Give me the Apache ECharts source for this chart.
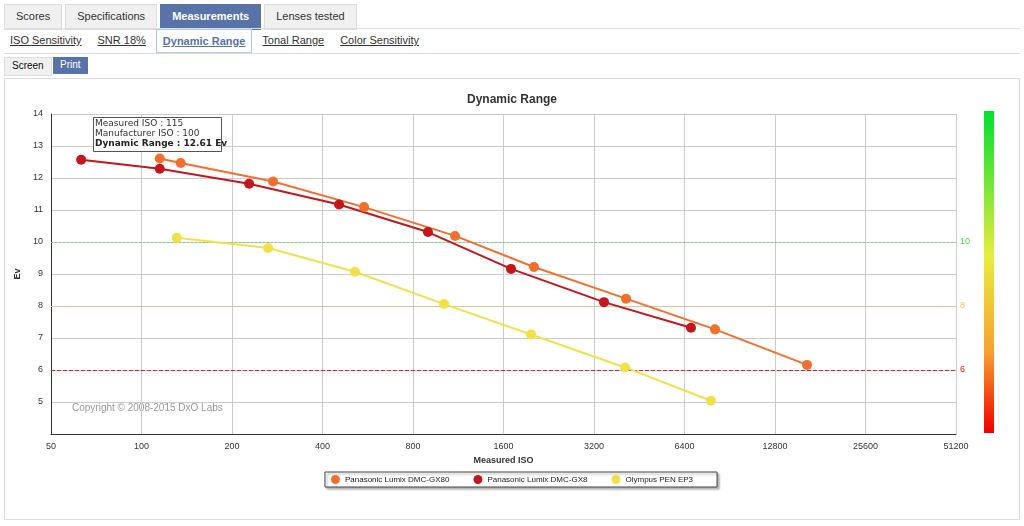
<!DOCTYPE html>
<html>
<head>
<meta charset="utf-8">
<title>Dynamic Range</title>
<script src="https://cdn.jsdelivr.net/npm/echarts@6/dist/echarts.min.js"></script>
<style>
body{margin:0;font-family:"Liberation Sans",Arial,sans-serif;background:#fff;width:1024px;height:526px;position:relative;overflow:hidden}
.tabs{position:absolute;left:4px;top:4px;display:flex}
.tabs div{font-size:11px;color:#333;background:#f0f0f0;border:1px solid #ddd;padding:0 11px;height:24px;line-height:22px;margin-right:3px}
.tabs .on{background:#5873a8;color:#fff;font-weight:bold;border-color:#5873a8}
.sub{position:absolute;left:4px;top:28px;right:4px;height:24px;border-top:1px solid #ddd;border-bottom:1px solid #ddd;display:flex}
.sub div{font-size:11px;color:#333;text-decoration:underline;padding:0 6px;margin-right:4px;line-height:22px}
.sub .on{color:#5873a8;font-weight:bold;border:1px solid #a9cde8}
.btn{position:absolute;top:57px;font-size:10px;height:17px;line-height:16px;padding:0 7px}
#main{position:absolute;left:4px;top:78px;width:1016px;height:442px;border:1px solid #ddd;box-sizing:border-box}
</style>
</head>
<body>
<div class="tabs"><div>Scores</div><div>Specifications</div><div class="on">Measurements</div><div>Lenses tested</div></div>
<div class="sub"><div>ISO Sensitivity</div><div>SNR 18%</div><div class="on">Dynamic Range</div><div>Tonal Range</div><div>Color Sensitivity</div></div>
<div class="btn" style="left:4px;background:#f0f0f0;border:1px solid #ddd;color:#111">Screen</div>
<div class="btn" style="left:53px;background:#5873a8;color:#fff">Print</div>
<div id="main"></div>
<script>
var seriesNames = ['Panasonic Lumix DMC-GX80', 'Panasonic Lumix DMC-GX8', 'Olympus PEN EP3'];
var colors = ['#f26f2e', '#c4161c', '#f2e04a'];
var isoGX80 = [115, 135, 274, 550, 1104, 2021, 4090, 8085, 16360];
var evGX80 = [12.61, 12.47, 11.89, 11.09, 10.19, 9.22, 8.23, 7.27, 6.16];
var isoGX8 = [63, 115, 228, 454, 897, 1695, 3455, 6725];
var evGX8 = [12.57, 12.29, 11.82, 11.17, 10.31, 9.16, 8.12, 7.32];
var isoEP3 = [131, 264, 513, 1015, 1976, 4060, 7840];
var evEP3 = [10.13, 9.81, 9.07, 8.06, 7.11, 6.08, 5.04];
var isoTicks = [50, 100, 200, 400, 800, 1600, 3200, 6400, 12800, 25600, 51200];

var myChart = echarts.init(document.getElementById('main'));
function pts(iso, ev) {
	return iso.map(function (v, i) { return [Math.log2(v / 50), ev[i]]; });
}
var all = [[isoGX80, evGX80], [isoGX8, evGX8], [isoEP3, evEP3]];
var series = all.map(function (d, i) {
	return {
		name: seriesNames[i], type: 'line', data: pts(d[0], d[1]),
		symbol: 'circle', symbolSize: 10,
		itemStyle: { color: colors[i] }, lineStyle: { width: 2, color: colors[i] }
	};
});
series[0].markLine = {
	silent: true, symbol: 'none', z: 1,
	label: { position: 'end', fontSize: 9, distance: 4 },
	data: [
		{ yAxis: 10, lineStyle: { color: '#6fd86f', type: [2, 2], width: 1 }, label: { color: '#4cd44c', formatter: '10' } },
		{ yAxis: 8, lineStyle: { color: '#d9c9a0', type: 'solid', width: 1 }, label: { color: '#f2c46a', formatter: '8' } },
		{ yAxis: 6, lineStyle: { color: '#e02020', type: 'dashed', width: 1 }, label: { color: '#e02020', formatter: '6' } }
	]
};
var option = {
	animation: false,
	textStyle: { fontFamily: 'Liberation Sans, Arial, sans-serif' },
	title: { text: 'Dynamic Range', left: 'center', top: 10, textStyle: { fontSize: 12, fontWeight: 'bold', color: '#333' } },
	grid: { left: 46, top: 35, width: 905, height: 320 },
	xAxis: {
		type: 'value', min: 0, max: 10, interval: 1,
		name: 'Measured ISO', nameLocation: 'middle', nameGap: 22,
		nameTextStyle: { fontSize: 9, fontWeight: 'bold', color: '#333' },
		axisLine: { lineStyle: { color: '#333' } }, axisTick: { show: false },
		axisLabel: { fontSize: 9, color: '#333', formatter: function (v) { return isoTicks[v]; } },
		splitLine: { show: true, lineStyle: { color: '#ccc' } }
	},
	yAxis: {
		type: 'value', min: 4, max: 14, interval: 1,
		name: 'Ev', nameLocation: 'middle', nameGap: 22, nameRotate: 90,
		nameTextStyle: { fontSize: 9, fontWeight: 'bold', color: '#333' },
		axisLine: { show: true, lineStyle: { color: '#333' } }, axisTick: { show: false },
		axisLabel: { fontSize: 9, color: '#333', formatter: function (v) { return v === 4 ? '' : v; } },
		splitLine: { lineStyle: { color: '#ccc' } }
	},
	legend: {
		bottom: 32, left: 'center', itemGap: 24, icon: 'circle', itemWidth: 9, itemHeight: 9,
		borderColor: '#444', borderWidth: 1, padding: [3, 24, 3, 6],
		textStyle: { fontSize: 8, color: '#222' }, data: seriesNames,
		shadowColor: 'rgba(0,0,0,0.3)', shadowOffsetX: 2, shadowOffsetY: 2, shadowBlur: 2, backgroundColor: '#fff'
	},
	graphic: [
		{ type: 'rect', left: 979, top: 32, shape: { width: 10, height: 322 },
		  style: { fill: new echarts.graphic.LinearGradient(0, 0, 0, 1, [
			{ offset: 0, color: '#00e030' }, { offset: 0.45, color: '#e8ec40' },
			{ offset: 0.75, color: '#f5a030' }, { offset: 1, color: '#f00000' }]) } },
		{ type: 'rect', left: 88, top: 38, z: 10, shape: { width: 128, height: 34 },
		  style: { fill: '#fff', stroke: '#555', lineWidth: 1 } },
		{ type: 'text', left: 90, top: 40, z: 11, style: { text: 'Measured ISO : 115\nManufacturer ISO : 100', font: '9px DejaVu Sans', fill: '#333', lineHeight: 10 } },
		{ type: 'text', left: 90, top: 60, z: 11, style: { text: 'Dynamic Range : 12.61 Ev', font: 'bold 9px DejaVu Sans', fill: '#222' } },
		{ type: 'text', left: 67, top: 324, style: { text: 'Copyright © 2008-2015 DxO Labs', font: '10px Liberation Sans', fill: '#999' } }
	],
	series: series
};
myChart.setOption(option);
</script>
</body>
</html>
